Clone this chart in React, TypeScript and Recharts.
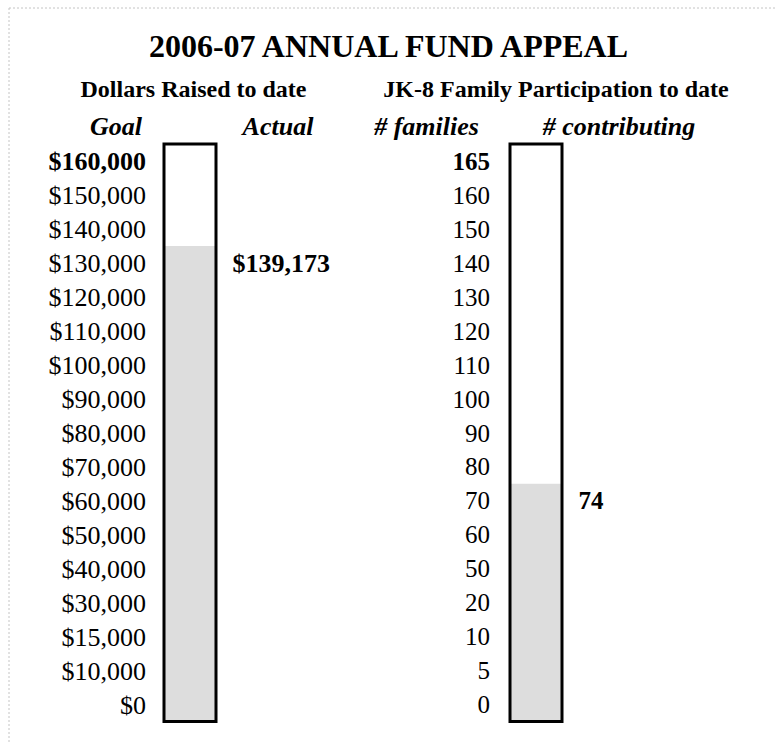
import { Bar, BarChart, LabelList, XAxis, YAxis } from "recharts";

// goal scale rows, bottom to top (spreadsheet style, not linear)
const goalLevels = [
  0, 10000, 15000, 30000, 40000, 50000, 60000, 70000, 80000, 90000, 100000,
  110000, 120000, 130000, 140000, 150000, 160000,
];
const actualDollars = 139173;

const familyLevels = [
  0, 5, 10, 20, 50, 60, 70, 80, 90, 100, 110, 120, 130, 140, 150, 160, 165,
];
const familiesContributing = 74;

const SERIF = '"Liberation Serif", "Times New Roman", serif';
const CHART_H = 744;
const MARGIN_TOP = 144;
const MARGIN_BOTTOM = 22.5;

const money = (v: number) => "$" + v.toLocaleString("en-US");
const plain = (v: number) => String(v);

type ThermoProps = {
  levels: number[];
  actual: number;
  format: (v: number) => string;
  left: number;
  width: number;
  axisWidth: number;
  plotWidth: number;
  fontSize: number;
};

function Thermometer({
  levels,
  actual,
  format,
  left,
  width,
  axisWidth,
  plotWidth,
  fontSize,
}: ThermoProps) {
  const rows = levels.length;
  const rowH = (CHART_H - MARGIN_TOP - MARGIN_BOTTOM) / rows;
  // a row is shaded once the actual amount reaches its level
  const filled = levels.filter((l) => l <= actual).length;
  const data = [{ name: "bar", filled, total: rows }];
  const ticks = levels.map((_, i) => i + 0.5);

  const renderTick = (props: any) => {
    const idx = Math.round(props.payload.value - 0.5);
    return (
      <text
        x={props.x}
        y={props.y}
        dy="0.35em"
        textAnchor="end"
        fontFamily={SERIF}
        fontSize={fontSize}
        fontWeight={idx === rows - 1 ? 700 : 400}
        fill="#000"
      >
        {format(levels[idx])}
      </text>
    );
  };

  // actual value sits beside the top shaded row
  const renderValue = (props: any) => {
    const vb = props.viewBox ?? props;
    return (
      <text
        x={vb.x + vb.width + 16.5}
        y={vb.y + rowH / 2}
        dy="0.35em"
        textAnchor="start"
        fontFamily={SERIF}
        fontSize={fontSize}
        fontWeight={700}
        fill="#000"
      >
        {format(actual)}
      </text>
    );
  };

  return (
    <div style={{ position: "absolute", left, top: 0 }}>
      <BarChart
        width={width}
        height={CHART_H}
        data={data}
        barGap={-52}
        margin={{
          top: MARGIN_TOP,
          right: width - axisWidth - plotWidth,
          bottom: MARGIN_BOTTOM,
          left: 0,
        }}
      >
        <XAxis dataKey="name" hide />
        <YAxis
          type="number"
          domain={[0, rows]}
          ticks={ticks}
          interval={0}
          width={axisWidth}
          tickSize={0}
          tickMargin={0}
          tickLine={false}
          axisLine={false}
          tick={renderTick}
        />
        <Bar
          dataKey="filled"
          fill="#dddddd"
          barSize={52}
          isAnimationActive={false}
        >
          <LabelList dataKey="filled" content={renderValue} />
        </Bar>
        <Bar
          dataKey="total"
          fill="none"
          stroke="#000"
          strokeWidth={3}
          barSize={52}
          isAnimationActive={false}
        />
      </BarChart>
    </div>
  );
}

export default function App() {
  return (
    <div
      style={{
        position: "absolute",
        left: 0,
        top: 0,
        width: 775,
        height: 744,
        background: "#fff",
        overflow: "hidden",
      }}
    >
      <svg
        width={775}
        height={744}
        style={{ position: "absolute", left: 0, top: 0 }}
      >
        <line x1={9} y1={8} x2={775} y2={8} stroke="#c4c4c4" strokeDasharray="2 2" />
        <line x1={9} y1={8} x2={9} y2={744} stroke="#c4c4c4" strokeDasharray="2 2" />
        <g fontFamily={SERIF} fill="#000" textAnchor="middle">
          <text x={388.5} y={57} fontSize={32} fontWeight={700}>
            2006-07 ANNUAL FUND APPEAL
          </text>
          <text x={193.5} y={97} fontSize={24} fontWeight={700}>
            Dollars Raised to date
          </text>
          <text x={556} y={97} fontSize={24} fontWeight={700}>
            JK-8 Family Participation to date
          </text>
          <g fontSize={26} fontWeight={700} fontStyle="italic">
            <text x={116} y={135}>Goal</text>
            <text x={278} y={135}>Actual</text>
            <text x={426.5} y={135}># families</text>
            <text x={619} y={135}># contributing</text>
          </g>
        </g>
      </svg>
      <Thermometer
        levels={goalLevels}
        actual={actualDollars}
        format={money}
        left={0}
        width={360}
        axisWidth={146}
        plotWidth={87}
        fontSize={26}
      />
      <Thermometer
        levels={familyLevels}
        actual={familiesContributing}
        format={plain}
        left={360}
        width={415}
        axisWidth={130}
        plotWidth={92}
        fontSize={25}
      />
    </div>
  );
}
